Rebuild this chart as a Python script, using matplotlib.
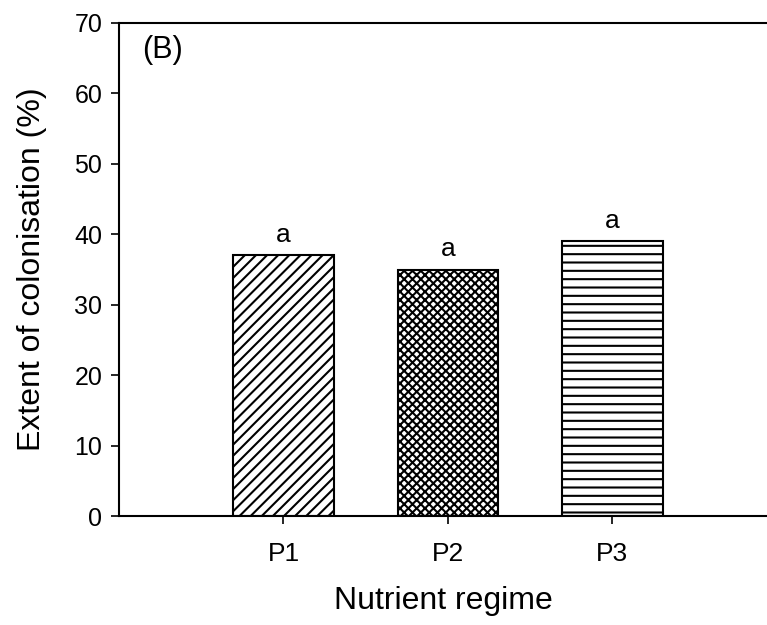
import matplotlib
matplotlib.use("Agg")
import matplotlib.pyplot as plt

plt.rcParams['font.family'] = ['Liberation Sans', 'DejaVu Sans']
plt.rcParams['hatch.linewidth'] = 1.5

regimes = ["P1", "P2", "P3"]
colonisation = [37, 35, 39]
letters = ["a", "a", "a"]
hatches = ["///", "xxxx", "--"]
yticks = [0, 10, 20, 30, 40, 50, 60, 70]

fig = plt.figure(figsize=(7.67, 6.25), dpi=100)
ax = fig.add_axes([0.1551, 0.1744, 0.8449, 0.7888])

positions = [1, 2, 3]
bars = ax.bar(positions, colonisation, width=0.61, color="white",
              edgecolor="black", linewidth=1.5, zorder=2)
for b, h in zip(bars, hatches):
    b.set_hatch(h)

for x, v, t in zip(positions, colonisation, letters):
    ax.text(x, v + 1.2, t, ha="center", va="bottom", fontsize=19)

ax.set_xlim(0, 3.94)
ax.set_ylim(0, 70)
ax.set_xticks(positions)
ax.set_xticklabels(regimes, fontsize=19)
ax.set_yticks(yticks)
ax.set_yticklabels([str(t) for t in yticks], fontsize=18)

ax.spines['right'].set_visible(False)
for s in ['left', 'top', 'bottom']:
    ax.spines[s].set_linewidth(1.5)

ax.tick_params(axis='y', direction='out', length=6, width=1.2, pad=6)
ax.tick_params(axis='x', direction='out', length=6, width=1.2, pad=13)

ax.set_ylabel("Extent of colonisation (%)", fontsize=23, labelpad=20)
ax.set_xlabel("Nutrient regime", fontsize=23, labelpad=14)

ax.text(0.035, 0.975, "(B)", transform=ax.transAxes, fontsize=22,
        ha="left", va="top")

fig.savefig("out.png", dpi=100)
